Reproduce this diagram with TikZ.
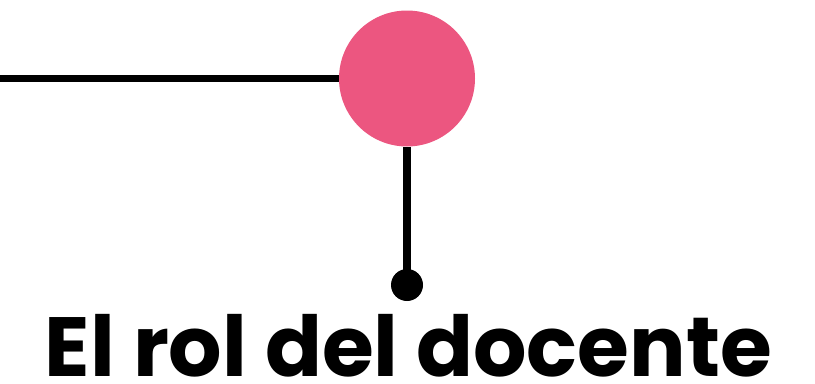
\documentclass[tikz,border=0pt]{standalone}
\usepackage{fontspec}
\setmainfont{Poppins}
\usetikzlibrary{positioning}
\definecolor{hubpink}{RGB}{236,86,128}
\tikzset{
  hub/.style={circle, fill=hubpink, minimum size=102pt, inner sep=0pt},
  pin/.style={circle, fill=black, minimum size=24pt, inner sep=0pt},
  link/.style={line width=5.5pt},
  title/.style={font=\fontsize{63}{65}\selectfont\bfseries, inner sep=0pt},
}
\begin{document}
\begin{tikzpicture}[x=0.75pt,y=-0.75pt]
  \useasboundingbox (0,0) rectangle (815,383);
  \coordinate (start) at (0,78.5);
  \node[hub] (hub) at (407,78.5) {};
  \node[pin] (pin) at (407,285) {};
  \node[title, anchor=base] (title) at (408.5,376) {El rol del docente};

  \draw[link] (start) -- (hub.west);
  \draw[link] (hub.south) -- (pin.center);
\end{tikzpicture}
\end{document}
